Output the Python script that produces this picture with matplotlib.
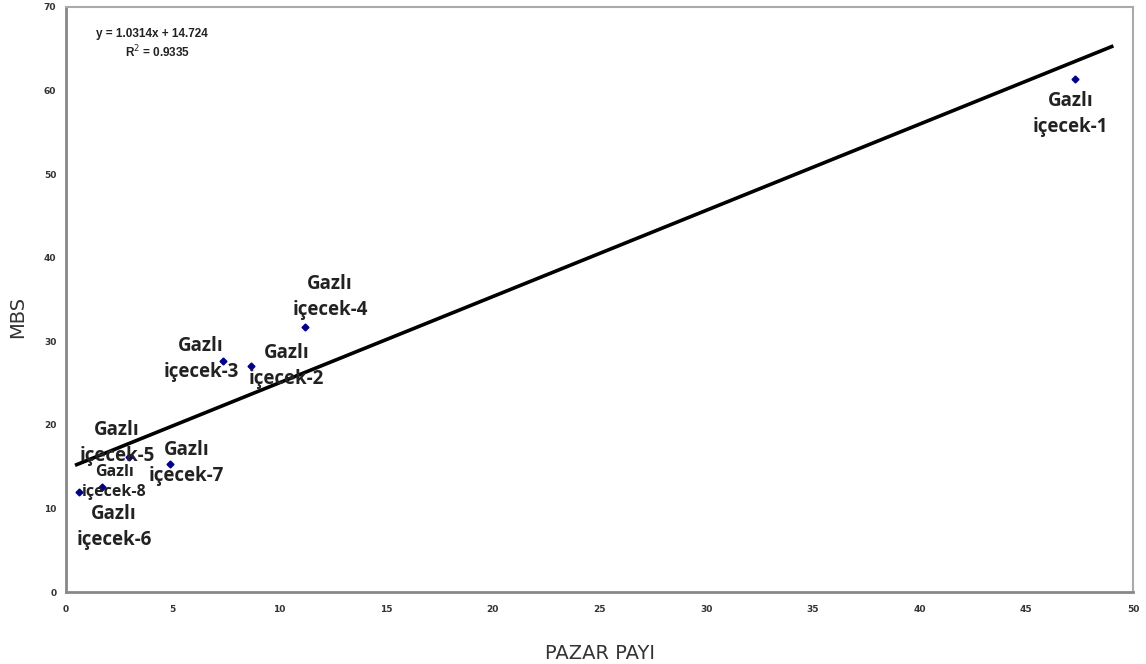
import numpy as np
import matplotlib
matplotlib.use('Agg')
import matplotlib.pyplot as plt

# pazar payi (x) and MBS (y) per brand
brands = ['Gazlı\niçecek-1', 'Gazlı\niçecek-2', 'Gazlı\niçecek-3', 'Gazlı\niçecek-4',
          'Gazlı\niçecek-5', 'Gazlı\niçecek-6', 'Gazlı\niçecek-7', 'Gazlı\niçecek-8']
pazar_payi = [47.3, 8.65, 7.35, 11.2, 2.95, 0.6, 4.85, 1.7]
mbs = [61.4, 27.0, 27.6, 31.7, 16.1, 12.0, 15.3, 12.6]

slope = 1.0314
intercept = 14.724
r2 = 0.9335
trend_x = [0.5, 49.0]

x_ticks = [0, 5, 10, 15, 20, 25, 30, 35, 40, 45, 50]
y_ticks = [0, 10, 20, 30, 40, 50, 60, 70]

# label offsets in pixels (dx, dy) and font size
label_off = [(-5, -35), (36, 0), (-22, 2), (25, 30), (-12, 14), (35, -35), (17, 1), (12, 5)]
label_fs = [13.5, 13.5, 13.5, 13.5, 13.5, 13.5, 13.5, 11.5]

fig = plt.figure(figsize=(11.46, 6.64), dpi=100)
ax = fig.add_axes([0.0576, 0.1084, 0.9311, 0.8811])

tx = np.array(trend_x)
ax.plot(tx, slope * tx + intercept, color='black', lw=2.6, zorder=2)
ax.plot(pazar_payi, mbs, 'D', color='#00008B', ms=3.5, zorder=3)

for i, name in enumerate(brands):
    ax.annotate(name, (pazar_payi[i], mbs[i]), xytext=label_off[i], textcoords='offset pixels',
                ha='center', va='center', fontsize=label_fs[i], fontweight='bold',
                family=['Open Sans', 'DejaVu Sans'], color='#222222',
                linespacing=1.4 if label_fs[i] > 12 else 1.3, zorder=4)

ax.text(0.0285, 0.949, 'y = %.4fx + %.3f' % (slope, intercept), transform=ax.transAxes,
        fontsize=8.5, fontweight='bold', color='#222222', family='Liberation Sans')
ax.text(0.0555, 0.914, 'R$^2$ = %.4f' % r2, transform=ax.transAxes,
        fontsize=8.5, fontweight='bold', color='#222222', family='Liberation Sans')

ax.set_xlim(0, 50)
ax.set_ylim(0, 70)
ax.set_xticks(x_ticks)
ax.set_yticks(y_ticks)
ax.tick_params(length=0, labelsize=6.5, colors='#333333', pad=9)
for lab in ax.get_xticklabels() + ax.get_yticklabels():
    lab.set_fontweight('bold')
ax.tick_params(axis='y', pad=7)

for s in ['left', 'bottom']:
    ax.spines[s].set_color('#888888')
    ax.spines[s].set_linewidth(2)
for s in ['top', 'right']:
    ax.spines[s].set_color('#aaaaaa')
    ax.spines[s].set_linewidth(1.5)

ax.set_xlabel('PAZAR PAYI', fontsize=14, color='#333333', labelpad=22,
              family=['Liberation Sans Narrow', 'DejaVu Sans'])
ax.set_ylabel('MBS', fontsize=14, color='#333333',
              family=['Liberation Sans Narrow', 'DejaVu Sans'])
ax.yaxis.set_label_coords(-0.036, 0.47)

fig.savefig('out.png', dpi=100)
